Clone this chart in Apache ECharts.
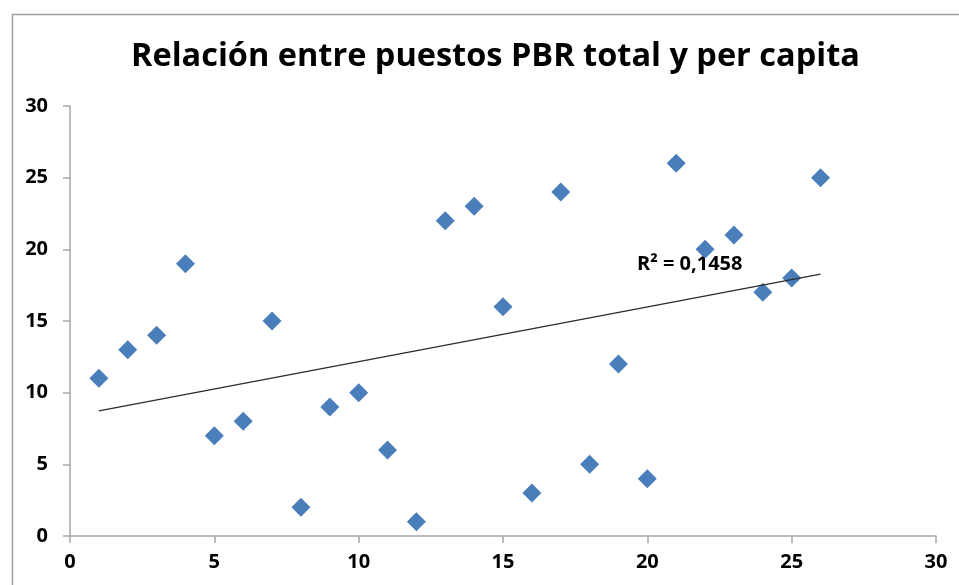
<!DOCTYPE html>
<html>
<head>
<meta charset="utf-8">
<script src="https://cdn.jsdelivr.net/npm/echarts@6/dist/echarts.min.js"></script>
<style>
  html, body { margin: 0; padding: 0; background: #fff; }
  #chart { width: 959px; height: 585px; }
</style>
</head>
<body>
<div id="chart"></div>
<script>
// puesto PBR total (x) vs puesto per capita (y)
var puestoTotal = [1, 2, 3, 4, 5, 6, 7, 8, 9, 10, 11, 12, 13, 14, 15, 16, 17, 18, 19, 20, 21, 22, 23, 24, 25, 26];
var puestoPerCapita = [11, 13, 14, 19, 7, 8, 15, 2, 9, 10, 6, 1, 22, 23, 16, 3, 24, 5, 12, 4, 26, 20, 21, 17, 18, 25];
var axisTicks = [0, 5, 10, 15, 20, 25, 30];

var points = puestoTotal.map(function (x, i) { return [x, puestoPerCapita[i]]; });

// linear trend (least squares) like the Excel trendline
function linearFit(xs, ys) {
    var n = xs.length, mx = 0, my = 0;
    for (var i = 0; i < n; i++) { mx += xs[i]; my += ys[i]; }
    mx /= n; my /= n;
    var sxy = 0, sxx = 0, syy = 0;
    for (var j = 0; j < n; j++) {
        sxy += (xs[j] - mx) * (ys[j] - my);
        sxx += (xs[j] - mx) * (xs[j] - mx);
        syy += (ys[j] - my) * (ys[j] - my);
    }
    var slope = sxy / sxx;
    return { slope: slope, icpt: my - slope * mx, r2: (sxy * sxy) / (sxx * syy) };
}
var fit = linearFit(puestoTotal, puestoPerCapita);
var xMin = Math.min.apply(null, puestoTotal), xMax = Math.max.apply(null, puestoTotal);
var trend = [[xMin, fit.icpt + fit.slope * xMin], [xMax, fit.icpt + fit.slope * xMax]];

var chart = echarts.init(document.getElementById('chart'));
var labelFont = 'Open Sans';
var axisCommon = {
    type: 'value',
    min: axisTicks[0],
    max: axisTicks[axisTicks.length - 1],
    interval: 5,
    splitLine: { show: false },
    axisLine: { show: true, lineStyle: { color: '#a6a6a6', width: 1.5 } },
    axisTick: { show: true, inside: false, length: 7, lineStyle: { color: '#a6a6a6', width: 1.5 } },
    axisLabel: { color: '#000', fontFamily: labelFont, fontWeight: 'bold', fontSize: 20 }
};

chart.setOption({
    animation: false,
    title: {
        text: 'Relación entre puestos PBR total y per capita',
        left: 126,
        top: 35,
        textStyle: { fontFamily: labelFont, fontWeight: 'bold', fontSize: 32.5, color: '#000' }
    },
    grid: { left: 70, right: 23, top: 106, bottom: 49 },
    xAxis: Object.assign({}, axisCommon, {
        axisLabel: Object.assign({}, axisCommon.axisLabel, { margin: 16 })
    }),
    yAxis: Object.assign({}, axisCommon, {
        axisLabel: Object.assign({}, axisCommon.axisLabel, { margin: 22 })
    }),
    graphic: [
        {
            type: 'rect', left: 10, top: 12, z: -1,
            shape: { width: 1000, height: 700 },
            style: { fill: 'none', stroke: '#a0a0a0', lineWidth: 1.5 }
        },
        {
            type: 'text', left: 637, top: 254,
            style: {
                text: 'R² = ' + fit.r2.toFixed(4).replace('.', ','),
                fontFamily: labelFont, fontWeight: 'bold', fontSize: 20, fill: '#000'
            }
        }
    ],
    series: [
        {
            type: 'line',
            data: trend,
            symbol: 'none',
            lineStyle: { color: '#2b2b2b', width: 1.2 },
            z: 3
        },
        {
            type: 'scatter',
            data: points,
            symbol: 'diamond',
            symbolSize: [19, 19],
            itemStyle: { color: '#4a7ebb', opacity: 1 },
            z: 2
        }
    ]
});
</script>
</body>
</html>
